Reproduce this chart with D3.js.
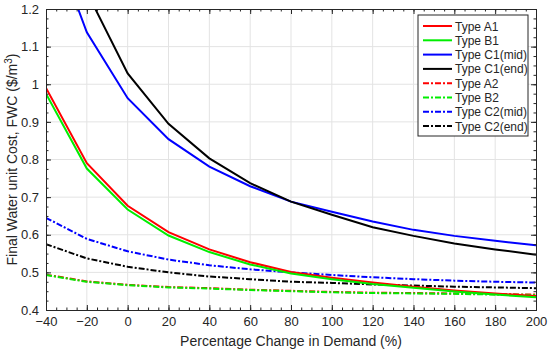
<!DOCTYPE html>
<html>
<head>
<meta charset="utf-8">
<script src="https://cdn.jsdelivr.net/npm/d3@7"></script>
<style>
  body { margin: 0; background: #fff; }
  text { font-family: "Liberation Sans", Arial, sans-serif; fill: #262626; }
</style>
</head>
<body>
<svg id="chart"></svg>
<script>
var width = 550,
    height = 353;

// demand change (%)
var demand = [-40, -20, 0, 20, 40, 60, 80, 100, 120, 140, 160, 180, 200];

// final water unit cost ($/m3)
var typeA1    = [0.990, 0.790, 0.677, 0.607, 0.561, 0.527, 0.501, 0.486, 0.473, 0.462, 0.452, 0.444, 0.437];
var typeB1    = [0.975, 0.776, 0.667, 0.598, 0.554, 0.521, 0.497, 0.482, 0.469, 0.459, 0.449, 0.441, 0.434];
var typeC1mid = [1.430, 1.138, 0.963, 0.854, 0.781, 0.729, 0.688, 0.661, 0.635, 0.613, 0.597, 0.584, 0.572];
var typeC1end = [1.620, 1.245, 1.029, 0.895, 0.803, 0.737, 0.688, 0.653, 0.620, 0.597, 0.577, 0.561, 0.547];
var typeA2    = [0.494, 0.476, 0.467, 0.461, 0.458, 0.454, 0.451, 0.448, 0.446, 0.445, 0.444, 0.442, 0.441];
var typeB2    = [0.493, 0.475, 0.466, 0.460, 0.457, 0.453, 0.450, 0.447, 0.445, 0.444, 0.443, 0.441, 0.440];
var typeC2mid = [0.645, 0.589, 0.556, 0.534, 0.519, 0.508, 0.500, 0.493, 0.487, 0.482, 0.478, 0.475, 0.473];
var typeC2end = [0.575, 0.537, 0.515, 0.500, 0.489, 0.482, 0.475, 0.472, 0.468, 0.465, 0.462, 0.460, 0.458];

var xTicks = [-40, -20, 0, 20, 40, 60, 80, 100, 120, 140, 160, 180, 200];
var yTicks = [0.4, 0.5, 0.6, 0.7, 0.8, 0.9, 1, 1.1, 1.2];

var seriesNames  = ["Type A1", "Type B1", "Type C1(mid)", "Type C1(end)", "Type A2", "Type B2", "Type C2(mid)", "Type C2(end)"];
var seriesValues = [typeA1, typeB1, typeC1mid, typeC1end, typeA2, typeB2, typeC2mid, typeC2end];
var seriesColors = ["#ff0000", "#00ee00", "#0000ff", "#000000", "#ff0000", "#00ee00", "#0000ff", "#000000"];
var seriesDashed = [false, false, false, false, true, true, true, true];

var margin = {top: 9, right: 14, bottom: 43, left: 46};
var innerW = width - margin.left - margin.right,
    innerH = height - margin.top - margin.bottom;

var svg = d3.select("#chart")
    .attr("width", width)
    .attr("height", height);

var g = svg.append("g")
    .attr("transform", "translate(" + margin.left + "," + margin.top + ")");

var x = d3.scaleLinear().domain([-40, 200]).range([0, innerW]);
var y = d3.scaleLinear().domain([0.4, 1.2]).range([innerH, 0]);

// grid
g.append("g").selectAll("line")
    .data(xTicks.slice(1, -1))
    .enter().append("line")
    .attr("x1", function(d) { return x(d); })
    .attr("x2", function(d) { return x(d); })
    .attr("y1", 0).attr("y2", innerH)
    .attr("stroke", "#e3e3e3").attr("stroke-width", 1);

g.append("g").selectAll("line")
    .data(yTicks.slice(1, -1))
    .enter().append("line")
    .attr("y1", function(d) { return y(d); })
    .attr("y2", function(d) { return y(d); })
    .attr("x1", 0).attr("x2", innerW)
    .attr("stroke", "#e3e3e3").attr("stroke-width", 1);

// curves
svg.append("defs").append("clipPath").attr("id", "plotclip")
    .append("rect").attr("width", innerW).attr("height", innerH);

var line = d3.line()
    .x(function(d, i) { return x(demand[i]); })
    .y(function(d) { return y(d); });

var drawOrder = [4, 5, 6, 7, 0, 1, 2, 3];
g.append("g").attr("clip-path", "url(#plotclip)")
    .selectAll("path")
    .data(drawOrder)
    .enter().append("path")
    .attr("d", function(k) { return line(seriesValues[k]); })
    .attr("fill", "none")
    .attr("stroke", function(k) { return seriesColors[k]; })
    .attr("stroke-width", 2)
    .attr("stroke-dasharray", function(k) { return seriesDashed[k] ? "6,2,2,2" : null; });

// axes (ticks inward, box)
var xMinor = d3.range(-40, 201, 5);
var yMinor = d3.range(0, 33).map(function(i) { return 0.4 + i * 0.025; });

var xAxis = d3.axisBottom(x).tickValues(xTicks).tickSize(-5).tickPadding(7).tickFormat(d3.format("d"));
var yAxis = d3.axisLeft(y).tickValues(yTicks).tickSize(-5).tickPadding(7).tickFormat(function(d) { return d3.format("")(+d.toFixed(1)); });

g.append("g").attr("transform", "translate(0," + innerH + ")").call(xAxis);
g.append("g").call(yAxis);
g.append("g").call(d3.axisTop(x).tickValues(xTicks).tickSize(-5).tickFormat(""));
g.append("g").attr("transform", "translate(" + innerW + ",0)").call(d3.axisRight(y).tickValues(yTicks).tickSize(-5).tickFormat(""));

// minor ticks
g.append("g").attr("transform", "translate(0," + innerH + ")").call(d3.axisBottom(x).tickValues(xMinor).tickSize(-2.5).tickFormat(""));
g.append("g").call(d3.axisTop(x).tickValues(xMinor).tickSize(-2.5).tickFormat(""));
g.append("g").call(d3.axisLeft(y).tickValues(yMinor).tickSize(-2.5).tickFormat(""));
g.append("g").attr("transform", "translate(" + innerW + ",0)").call(d3.axisRight(y).tickValues(yMinor).tickSize(-2.5).tickFormat(""));

g.selectAll(".domain").attr("stroke", "#262626");
g.selectAll(".tick line").attr("stroke", "#262626");
g.selectAll(".tick text").style("font-size", "13px").attr("fill", "#262626");

// axis titles
svg.append("text")
    .attr("x", margin.left + innerW / 2)
    .attr("y", 346)
    .attr("text-anchor", "middle")
    .style("font-size", "14px")
    .text("Percentage Change in Demand (%)");

var yt = svg.append("text")
    .attr("transform", "translate(17," + (margin.top + innerH / 2) + ") rotate(-90)")
    .attr("text-anchor", "middle")
    .style("font-size", "14px");
yt.append("tspan").text("Final Water unit Cost, FWC ($/m");
yt.append("tspan").attr("dy", -5).style("font-size", "10px").text("3");
yt.append("tspan").attr("dy", 5).text(")");

// legend
var legend = svg.append("g").attr("transform", "translate(418,15)");
legend.append("rect")
    .attr("width", 110).attr("height", 121)
    .attr("fill", "#fff").attr("stroke", "#262626").attr("stroke-width", 1);

var rows = legend.selectAll("g.row")
    .data(seriesNames)
    .enter().append("g")
    .attr("class", "row")
    .attr("transform", function(d, i) { return "translate(0," + (11 + i * 14.3) + ")"; });

rows.append("line")
    .attr("x1", 5).attr("x2", 34)
    .attr("stroke", function(d, i) { return seriesColors[i]; })
    .attr("stroke-width", 2)
    .attr("stroke-dasharray", function(d, i) { return seriesDashed[i] ? "6,2,2,2" : null; });

rows.append("text")
    .attr("x", 37).attr("y", 4.5)
    .style("font-size", "12px")
    .text(function(d) { return d; });
</script>
</body>
</html>
